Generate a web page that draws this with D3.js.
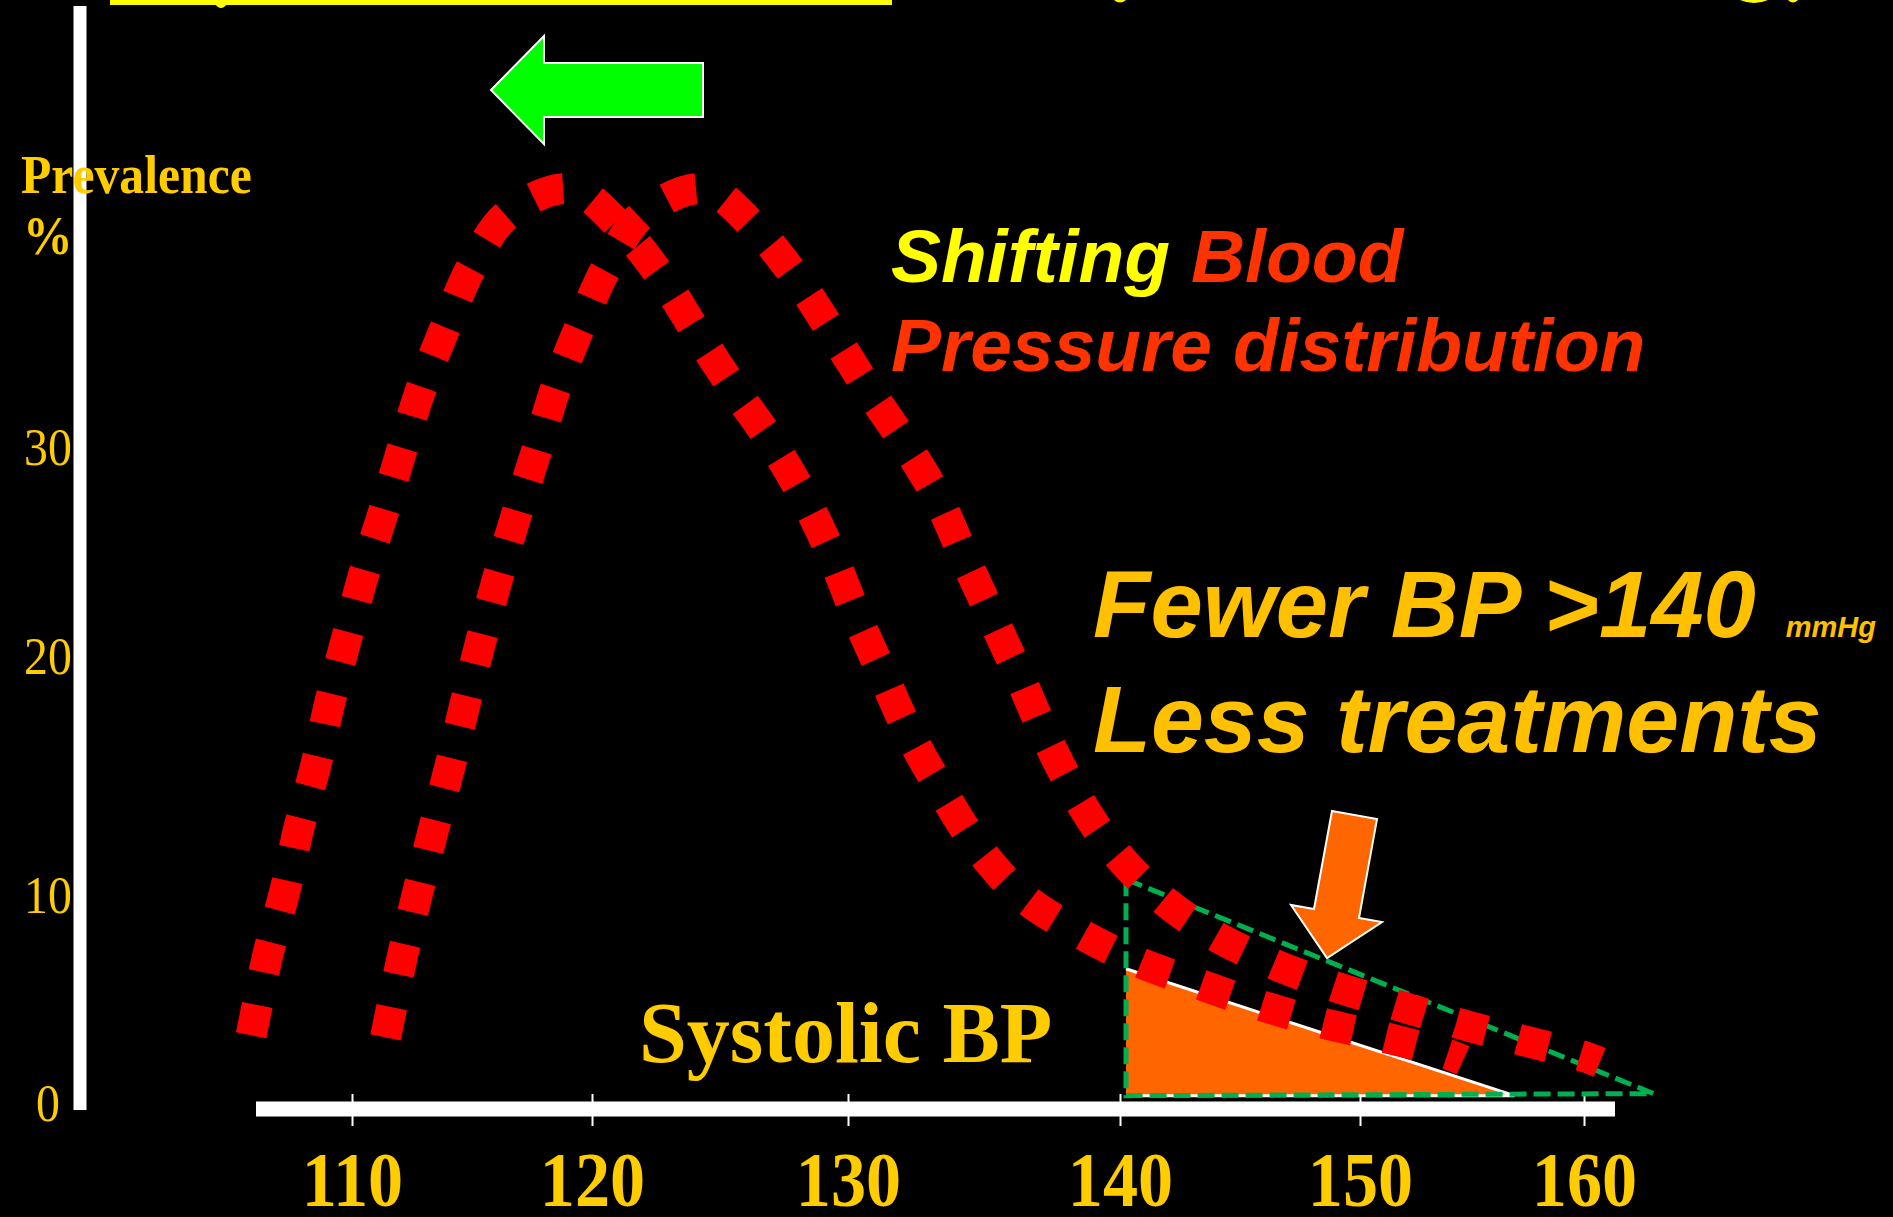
<!DOCTYPE html>
<html>
<head>
<meta charset="utf-8">
<script src="https://cdn.jsdelivr.net/npm/d3@7"></script>
<style>
  html, body { margin: 0; padding: 0; background: #000; }
  svg { display: block; }
</style>
</head>
<body>
<div id="chart"></div>
<script>
const width = 1893;
const height = 1217;

// axis ticks
const xTicks = [110, 120, 130, 140, 150, 160];
const yTicks = [0, 10, 20, 30];

// shifted (lower) BP distribution
const shiftedBP = [105.8, 106.5, 107.2, 107.8, 108.5, 109.1, 109.8, 110.5, 111.3, 112.1,
                   112.9, 113.9, 115.0, 116.5, 119.1, 121.1, 122.7, 124.1, 125.5, 127.0,
                   128.3, 129.4, 130.3, 131.3, 132.3, 133.5, 134.8, 136.4, 138.4, 140.6,
                   143.2, 145.7, 148.4, 151.1, 153.9, 154.6];
const shiftedPrev = [3.3, 7.2, 10.2, 12.9, 15.5, 18.2, 21.0, 24.0, 26.9, 30.0,
                     32.9, 35.8, 38.7, 41.2, 42.4, 40.6, 38.2, 35.5, 32.9, 30.3,
                     27.6, 24.8, 22.0, 19.2, 16.7, 14.3, 12.0, 10.0, 8.3, 6.9,
                     5.8, 4.8, 3.9, 3.2, 2.4, 2.1];

// current BP distribution
const currentBP = [111.4, 112.1, 112.75, 113.4, 114.1, 114.75, 115.4, 116.1, 116.9, 117.7,
                   118.5, 119.5, 120.6, 122.0, 124.4, 126.4, 128.0, 129.4, 130.7, 132.1,
                   133.3, 134.3, 135.3, 136.3, 137.3, 138.4, 139.7, 141.6, 143.8, 146.25,
                   148.8, 151.5, 154.3, 157.1, 159.95, 160.7];
const currentPrev = [3.2, 7.1, 10.2, 12.8, 15.5, 18.2, 20.9, 23.9, 27.0, 29.9,
                     32.9, 35.8, 38.7, 41.2, 42.4, 40.5, 38.1, 35.5, 32.9, 30.2,
                     27.6, 24.7, 21.9, 19.2, 16.6, 14.2, 12.0, 10.0, 8.2, 6.8,
                     5.7, 4.8, 3.9, 3.1, 2.3, 2.0];

// share above 140 mmHg: before (dashed) and after the shift (filled)
const excessBP = [140.25, 140.25, 163.1];
const excessPrev = [10.7, 0.4, 0.5];
const reducedBP = [140.25, 156.9, 140.25];
const reducedPrev = [6.5, 0.4, 0.4];

const gold = "#FFCC00";
const serif = "'Liberation Serif', 'Times New Roman', serif";
const sans = "'Liberation Sans', Arial, sans-serif";

// the slide's tick spacing is uneven, so use piecewise scales
const x = d3.scaleLinear().domain(xTicks).range([352, 592, 848, 1120, 1360, 1584]);
const y = d3.scaleLinear().domain(yTicks).range([1104, 896, 657, 448]);

const svg = d3.select("#chart").append("svg")
    .attr("width", width)
    .attr("height", height)
    .style("background", "#000");

// cut-off title: underline and a few descender tips at the very top
svg.append("rect")
    .attr("x", 110).attr("y", 0)
    .attr("width", 782).attr("height", 5)
    .attr("fill", "#FFFF00");
svg.append("path")
    .attr("d", "M215,4 Q221,12 227,4 Z M1114,0 Q1120,5 1126,0 Z M1740,0 Q1754,6 1768,0 Z M1788,0 Q1793,5 1798,0 Z")
    .attr("fill", "#FFFF00");

// axes bars
svg.append("line")
    .attr("x1", 80).attr("x2", 80)
    .attr("y1", 6).attr("y2", 1110)
    .attr("stroke", "#fff").attr("stroke-width", 13);

svg.append("line")
    .attr("x1", 256).attr("x2", 1615)
    .attr("y1", 1109).attr("y2", 1109)
    .attr("stroke", "#fff").attr("stroke-width", 15);

const xAxis = svg.append("g")
    .attr("transform", "translate(0,1094)")
    .call(d3.axisBottom(x).tickValues(xTicks).tickSize(32).tickPadding(25).tickFormat(d3.format("d")));
xAxis.select(".domain").remove();
xAxis.selectAll(".tick line").attr("stroke", "#fff").attr("stroke-width", 2);
xAxis.selectAll(".tick text")
    .attr("fill", gold)
    .attr("font-family", serif)
    .attr("font-weight", "bold")
    .attr("font-size", 78)
    .attr("transform", "scale(0.9,1)");

const yAxis = svg.append("g")
    .attr("transform", "translate(80,0)")
    .call(d3.axisLeft(y).tickValues(yTicks).tickSize(0).tickFormat(d3.format("d")));
yAxis.select(".domain").remove();
yAxis.selectAll(".tick line").remove();
yAxis.selectAll(".tick text")
    .attr("x", 0)
    .attr("text-anchor", "middle")
    .attr("fill", gold)
    .attr("font-family", serif)
    .attr("font-size", 52)
    .attr("transform", "translate(-32,0) scale(0.92,1)");

// areas above 140
const poly = d3.line().x(d => x(d[0])).y(d => y(d[1]));

const reduced = d3.zip(reducedBP, reducedPrev);
svg.append("path")
    .attr("d", poly(reduced) + "Z")
    .attr("fill", "#FF6600");
svg.append("path")
    .attr("d", poly(reduced))
    .attr("fill", "none")
    .attr("stroke", "#fff")
    .attr("stroke-width", 3);

svg.append("path")
    .attr("d", poly(d3.zip(excessBP, excessPrev)) + "Z")
    .attr("fill", "none")
    .attr("stroke", "#00B050")
    .attr("stroke-width", 5)
    .attr("stroke-dasharray", "17,7");

// distributions as square-dotted red curves
const curve = d3.line()
    .x(d => x(d[0]))
    .y(d => y(d[1]))
    .curve(d3.curveCatmullRom.alpha(0.5));

[d3.zip(currentBP, currentPrev), d3.zip(shiftedBP, shiftedPrev)].forEach(pts => {
  svg.append("path")
      .attr("d", curve(pts))
      .attr("fill", "none")
      .attr("stroke", "#FF0000")
      .attr("stroke-width", 31)
      .attr("stroke-dasharray", "31,33");
});

// arrows
svg.append("path")
    .attr("d", "M491,90 L544,36 L544,63 L703,63 L703,117 L544,117 L544,144 Z")
    .attr("fill", "#00FF00")
    .attr("stroke", "#fff")
    .attr("stroke-width", 2);

svg.append("path")
    .attr("d", "M1332,811 L1377,819 L1359,918 L1382,922 L1327,958 L1291,905 L1314,909 Z")
    .attr("fill", "#FF6600")
    .attr("stroke", "#fff")
    .attr("stroke-width", 2);

// labels
svg.append("text")
    .attr("transform", "translate(21,193) scale(0.92,1)")
    .attr("fill", gold).attr("font-family", serif)
    .attr("font-weight", "bold").attr("font-size", 54)
    .text("Prevalence");
svg.append("text")
    .attr("transform", "translate(23,254) scale(0.92,1)")
    .attr("fill", gold).attr("font-family", serif)
    .attr("font-weight", "bold").attr("font-size", 54)
    .text("%");

svg.append("text")
    .attr("x", 639).attr("y", 1062)
    .attr("fill", gold).attr("font-family", serif)
    .attr("font-weight", "bold").attr("font-size", 86)
    .text("Systolic BP");

const shift = svg.append("text")
    .attr("x", 891).attr("y", 282)
    .attr("font-family", sans).attr("font-weight", "bold")
    .attr("font-style", "italic").attr("font-size", 75);
shift.append("tspan").attr("fill", "#FFFF00").text("Shifting ");
shift.append("tspan").attr("fill", "#FF3300").text("Blood");

svg.append("text")
    .attr("x", 891).attr("y", 371)
    .attr("fill", "#FF3300").attr("font-family", sans).attr("font-weight", "bold")
    .attr("font-style", "italic").attr("font-size", 75)
    .text("Pressure distribution");

const fewer = svg.append("text")
    .attr("x", 1093).attr("y", 637)
    .attr("fill", "#FFC000").attr("font-family", sans).attr("font-weight", "bold")
    .attr("font-style", "italic").attr("font-size", 94);
fewer.append("tspan").text("Fewer BP >140");
fewer.append("tspan").attr("dx", 30).attr("font-size", 29).text("mmHg");

svg.append("text")
    .attr("x", 1093).attr("y", 752)
    .attr("fill", "#FFC000").attr("font-family", sans).attr("font-weight", "bold")
    .attr("font-style", "italic").attr("font-size", 95)
    .text("Less treatments");
</script>
</body>
</html>
